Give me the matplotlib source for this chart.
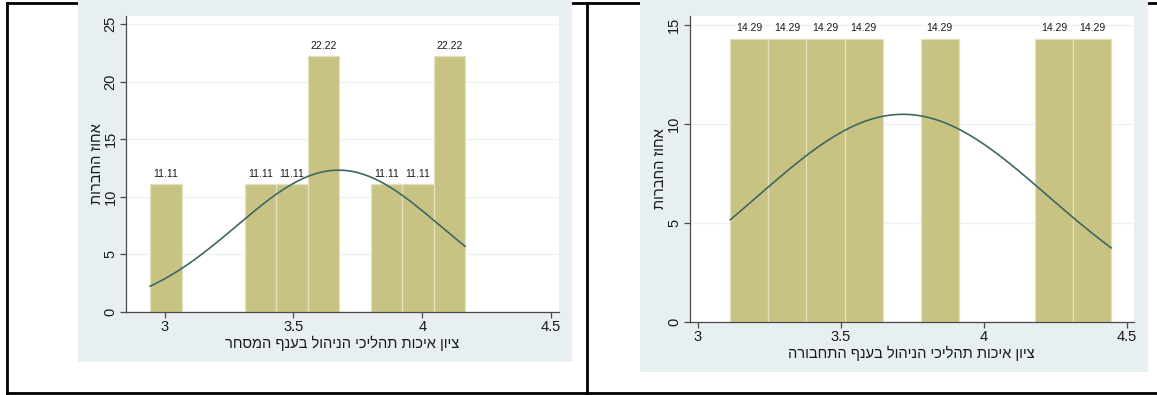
import numpy as np
import matplotlib
matplotlib.use("Agg")
import matplotlib.pyplot as plt
from matplotlib.patches import Rectangle
from matplotlib.lines import Line2D

plt.rcParams['font.family'] = ['Liberation Sans', 'DejaVu Sans']

W, H = 1157, 395

# --- panel 1: trade sector ---
trade_bin_start = 2.944
trade_bin_width = 0.1222
trade_percent = [11.11, 0, 0, 11.11, 11.11, 22.22, 0, 11.11, 11.11, 22.22]
trade_mean, trade_sd = 3.675, 0.396
trade_xlabel = "ציון איכות תהליכי הניהול בענף המסחר"

# --- panel 2: transport sector ---
transport_bin_start = 3.1136
transport_bin_width = 0.1331
transport_percent = [14.29, 14.29, 14.29, 14.29, 0, 14.29, 0, 0, 14.29, 14.29]
transport_mean, transport_sd = 3.717, 0.507
transport_xlabel = "ציון איכות תהליכי הניהול בענף התחבורה"

ylabel_text = "אחוז החברות"
x_ticks = [3, 3.5, 4, 4.5]
x_ticklabels = ["3", "3.5", "4", "4.5"]
trade_yticks = [0, 5, 10, 15, 20, 25]
transport_yticks = [0, 5, 10, 15]

BAR = "#c8c382"
BAR_EDGE = "#e4e1bf"
CURVE = "#3e6862"
BG = "#e7eff1"
GRID = "#eef2f3"
AXC = "#4a4a4a"
TXT = "#1a1a1a"


def visual(s):
    # matplotlib lays text out left-to-right; flip Hebrew into visual order
    return s[::-1]


def px_rect(x0, y0, x1, y1):
    return [x0 / W, 1 - y1 / H, (x1 - x0) / W, (y1 - y0) / H]


fig = plt.figure(figsize=(W / 100, H / 100), dpi=100)
fig.patch.set_facecolor("white")

# table frame
for (xa, ya, xb, yb) in [(7, 2.5, 1157, 2.5), (7, 392.5, 1157, 392.5),
                         (7, 2.5, 7, 392.5), (587, 2.5, 587, 392.5)]:
    fig.add_artist(Line2D([xa / W, xb / W], [1 - ya / H, 1 - yb / H],
                          color="black", lw=2.0, transform=fig.transFigure,
                          zorder=-3))

# chart backgrounds
fig.add_artist(Rectangle((78 / W, 1 - 362 / H), (572 - 78) / W, 362 / H,
                         transform=fig.transFigure, facecolor=BG,
                         edgecolor="none", zorder=-2))
fig.add_artist(Rectangle((640 / W, 1 - 372 / H), (1148 - 640) / W, 372 / H,
                         transform=fig.transFigure, facecolor=BG,
                         edgecolor="none", zorder=-2))


def panel(rect, start, width, perc, mu, sd, xlim, ylim, yticks, xlabel):
    ax = fig.add_axes(rect)
    ax.set_facecolor("white")
    n = len(perc)
    edges = start + width * np.arange(n)
    heights = np.array(perc, dtype=float)
    ax.bar(edges, heights, width=width, align="edge", color=BAR,
           edgecolor=BAR_EDGE, linewidth=0.9, zorder=2)
    for e, h in zip(edges, heights):
        if h > 0:
            ax.text(e + width / 2, h + ylim[1] * 0.018, f"{h:.2f}", ha="center",
                    va="bottom", fontsize=7.5, color=TXT, zorder=4)
    xs = np.linspace(start, start + width * n, 300)
    dens = 100 * width * np.exp(-0.5 * ((xs - mu) / sd) ** 2) / (sd * np.sqrt(2 * np.pi))
    ax.plot(xs, dens, color=CURVE, lw=1.2, zorder=3)
    ax.set_xlim(*xlim)
    ax.set_ylim(*ylim)
    ax.set_xticks(x_ticks)
    ax.set_xticklabels(x_ticklabels)
    ax.set_yticks(yticks)
    ax.set_yticklabels([str(t) for t in yticks], rotation=90, va="center")
    ax.yaxis.grid(True, color=GRID, lw=1.0, zorder=0)
    ax.set_axisbelow(True)
    for s in ("top", "right"):
        ax.spines[s].set_visible(False)
    for s in ("left", "bottom"):
        ax.spines[s].set_color(AXC)
        ax.spines[s].set_linewidth(0.9)
    ax.tick_params(axis="both", colors=AXC, labelcolor=TXT, labelsize=10.5,
                   length=4, width=0.9, direction="out")
    ax.tick_params(axis="x", pad=2)
    ax.tick_params(axis="y", pad=2)
    ax.set_xlabel(visual(xlabel), fontsize=10.5, color=TXT, labelpad=1)
    ax.set_ylabel(visual(ylabel_text), fontsize=10.5, color=TXT, labelpad=0)
    return ax


panel(px_rect(126, 16, 559, 312), trade_bin_start, trade_bin_width, trade_percent,
      trade_mean, trade_sd, (2.850, 4.531), (0, 25.69), trade_yticks, trade_xlabel)
panel(px_rect(689.5, 16, 1133.6, 322), transport_bin_start, transport_bin_width,
      transport_percent, transport_mean, transport_sd, (2.971, 4.523), (0, 15.43),
      transport_yticks, transport_xlabel)

fig.savefig("out.png", dpi=100, facecolor="white")
